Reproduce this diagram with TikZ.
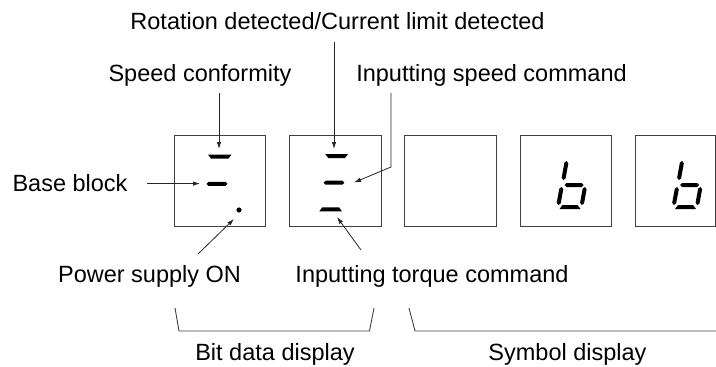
\documentclass[tikz,border=0pt]{standalone}
\usepackage{fontspec}
\setmainfont{Liberation Sans}
\usetikzlibrary{calc,arrows.meta}
\newcommand\sgm[2]{%
  \path #1 coordinate (sA) #2 coordinate (sB);
  \path ($(sA)!2pt!(sB)$) coordinate (sA1) ($(sB)!2pt!(sA)$) coordinate (sB1);
  \fill (sA) -- ($(sA1)!2pt!90:(sB)$) -- ($(sB1)!2pt!-90:(sA)$) -- (sB)
        -- ($(sB1)!2pt!90:(sA)$) -- ($(sA1)!2pt!-90:(sB)$) -- cycle;}
\newcommand\tseg[3]{\fill (#1,#3-2) -- (#2,#3-2) -- (#2-3,#3+2) -- (#1+3,#3+2) -- cycle;}
\newcommand\bseg[3]{\fill (#1+3,#3-2) -- (#2-3,#3-2) -- (#2,#3+2) -- (#1,#3+2) -- cycle;}
\newcommand\bglyph{%
  \sgm{(566.7,161)}{(563.3,180)}
  \sgm{(564.5,185)}{(583.5,185)}
  \sgm{(561.7,187)}{(558.3,205)}
  \sgm{(585,187)}{(581.7,205)}
  \bseg{559.5}{580.5}{207}}
\begin{document}
\begin{tikzpicture}[x=1pt,y=-1pt,
  lbl/.style={font=\fontsize{23.5}{28}\selectfont, inner sep=0pt, anchor=base},
  disp/.style={draw=black!75, line width=0.9pt, inner sep=0pt, minimum height=91.5pt, anchor=north west},
  arr/.style={draw=black!85, line width=0.8pt, -{Latex[length=7pt,width=4.5pt]}},
  brk/.style={draw=black!75, line width=0.9pt}]
\useasboundingbox (0,0) rectangle (716,367);

% display boxes
\node[disp, minimum width=91pt] (d1) at (174,134.5) {};
\node[disp, minimum width=92pt] (d2) at (289,134.5) {};
\node[disp, minimum width=92pt] (d3) at (404,134.5) {};
\node[disp, minimum width=91pt] (d4) at (520,134.5) {};
\node[disp, minimum width=80pt] (d5) at (635,134.5) {};

% bit segments
\tseg{208}{231.5}{156.5}
\sgm{(206.5,183.8)}{(227.5,183.8)}
\fill (239,210) circle (2.6);
\tseg{325.3}{348}{156}
\sgm{(323.7,182.7)}{(344.3,182.7)}
\bseg{319.3}{342}{209.3}

% symbol "b"
\bglyph
\begin{scope}[xshift=115.5pt]\bglyph\end{scope}

% labels
\node[lbl] (rot) at (337.5,29.5) {Rotation detected/Current limit detected};
\node[lbl] (sc)  at (200,81.7) {Speed conformity};
\node[lbl] (isc) at (491.5,81.7) {Inputting speed command};
\node[lbl] (bb)  at (70,191) {Base block};
\node[lbl] (ps)  at (149.5,282.7) {Power supply ON};
\node[lbl] (itc) at (432,282.7) {Inputting torque command};
\node[lbl] (bd)  at (275,360) {Bit data display};
\node[lbl] (sd)  at (567.5,360) {Symbol display};

% connector coordinates
\coordinate (scA) at (219,93);   \coordinate (scB) at (219,149);
\coordinate (rtA) at (334,42);   \coordinate (rtB) at (334,149);
\coordinate (isA) at (391,93);   \coordinate (isK) at (391,167); \coordinate (isB) at (354,182.5);
\coordinate (bbA) at (147,183.6); \coordinate (bbB) at (200,183.6);
\coordinate (psA) at (198,254);  \coordinate (psB) at (234,219);
\coordinate (tcA) at (361,250);  \coordinate (tcB) at (337,217);

\draw[arr] (scA) -- (scB);
\draw[arr] (rtA) -- (rtB);
\draw[arr] (isA) -- (isK) -- (isB);
\draw[arr] (bbA) -- (bbB);
\draw[arr] (psA) -- (psB);
\draw[arr] (tcA) -- (tcB);

% brackets
\coordinate (b1a) at (175,308); \coordinate (b1b) at (179,331);
\coordinate (b1c) at (369.5,331); \coordinate (b1d) at (374,308);
\coordinate (b2a) at (409,308); \coordinate (b2b) at (415,331);
\coordinate (b2c) at (716,331);
\draw[brk] (b1a) -- (b1b) -- (b1c) -- (b1d);
\draw[brk] (b2a) -- (b2b) -- (b2c);
\end{tikzpicture}
\end{document}
